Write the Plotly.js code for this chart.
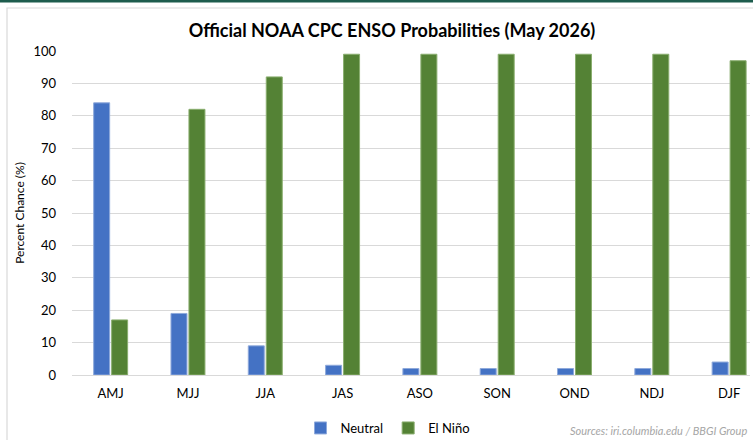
<!DOCTYPE html>
<html>
<head>
<meta charset="utf-8">
<script src="https://cdn.plot.ly/plotly-3.0.1.min.js"></script>
<style>
html,body{margin:0;padding:0;background:#fff;overflow:hidden;}
#chart{width:753px;height:440px;}
</style>
</head>
<body>
<div id="chart"></div>
<script>
var categories = ["AMJ","MJJ","JJA","JAS","ASO","SON","OND","NDJ","DJF"];
var neutral = [84,19,9,3,2,2,2,2,4];
var elNino = [17,82,92,99,99,99,99,99,97];
var yTicks = [0,10,20,30,40,50,60,70,80,90,100];

var L = 72, R = 750, T = 51, B = 375;
function px2x(p){ return (p - L) / (R - L); }
function px2y(p){ return (B - p) / (B - T); }

var traces = [
  {type:"bar", name:"Neutral", x:categories, y:neutral,
   marker:{color:"#4472C4", line:{color:"#8EA9DB", width:1}}},
  {type:"bar", name:"El Niño", x:categories, y:elNino,
   marker:{color:"#548235", line:{color:"#8AAE6F", width:1}}}
];

var layout = {
  width:753, height:440,
  margin:{l:L, r:753-R, t:T, b:440-B, pad:0, autoexpand:false},
  paper_bgcolor:"#ffffff", plot_bgcolor:"#ffffff",
  font:{family:"Lato, 'Open Sans', sans-serif", color:"#000000", size:13},
  barmode:"group", bargap:0.535, bargroupgap:0.11,
  showlegend:true,
  title:{text:"<b>Official NOAA CPC ENSO Probabilities (May 2026)</b>",
         font:{size:18, color:"#000000", family:"Lato, 'Open Sans', sans-serif"},
         x:392/753, xanchor:"center", y:1-31/440, yanchor:"middle", xref:"container", yref:"container"},
  xaxis:{type:"category", range:[-0.5, 8.27], showgrid:false, zeroline:false, showline:false,
         ticks:"", tickfont:{size:13, color:"#000"}, ticklabelstandoff:9, fixedrange:true},
  yaxis:{range:[0,100], tickvals:yTicks, showgrid:true, gridcolor:"#D9D9D9", gridwidth:1,
         zeroline:true, zerolinecolor:"#D9D9D9", zerolinewidth:1, showline:false, ticks:"",
         tickfont:{size:13, color:"#000"}, ticklabelstandoff:15,
         title:{text:"Percent Chance (%)", font:{size:12, color:"#000"}, standoff:6}, fixedrange:true},
  legend:{orientation:"h", x:px2x(388), xanchor:"center", y:px2y(428), yanchor:"middle",
          font:{size:13, color:"#000"}, bgcolor:"rgba(0,0,0,0)", itemwidth:30, traceorder:"normal"},
  shapes:[
    {type:"rect", xref:"paper", yref:"paper", x0:px2x(-5), x1:px2x(760), y0:px2y(2.5), y1:px2y(-5),
     fillcolor:"#1D5C4D", line:{width:0}, layer:"below"},
    {type:"rect", xref:"paper", yref:"paper", x0:px2x(7), x1:px2x(800), y0:px2y(500), y1:px2y(8),
     fillcolor:"rgba(0,0,0,0)", line:{color:"#D9D9D9", width:1.2}, layer:"below"}
  ],
  annotations:[
    {text:"<i>Sources: iri.columbia.edu / BBGI Group</i>", xref:"paper", yref:"paper",
     x:px2x(749), xanchor:"right", y:px2y(431), yanchor:"middle", showarrow:false,
     font:{size:11, color:"#A6A6A6"}}
  ],
  hovermode:false
};

Plotly.newPlot("chart", traces, layout, {displayModeBar:false, staticPlot:true});
</script>
</body>
</html>
